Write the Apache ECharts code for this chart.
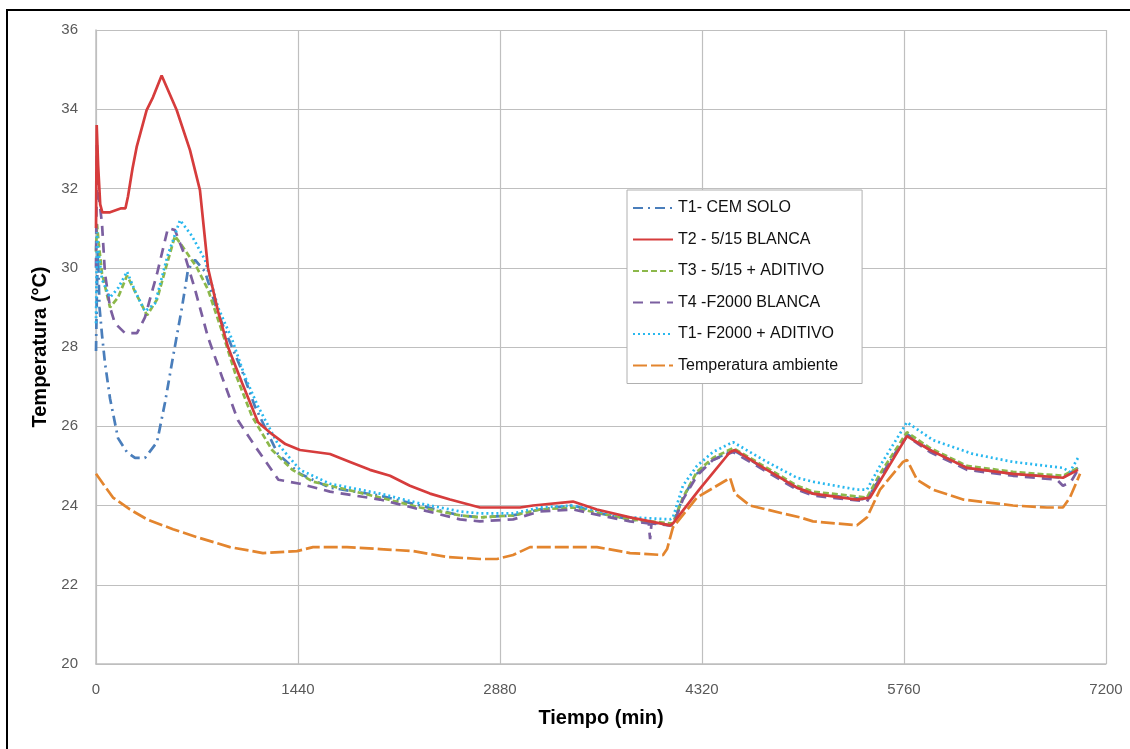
<!DOCTYPE html>
<html>
<head>
<meta charset="utf-8">
<title>Temperatura vs tiempo</title>
<script src="https://cdn.jsdelivr.net/npm/echarts@6/dist/echarts.min.js"></script>
<style>
  html, body { margin: 0; padding: 0; background: #fff; }
  #chart { width: 1130px; height: 749px; }
</style>
</head>
<body>
<div id="chart"></div>
<script>
// ejes
var xTicks = [0, 1440, 2880, 4320, 5760, 7200];
var yTicks = [20, 22, 24, 26, 28, 30, 32, 34, 36];

// nombres de las series (leyenda)
var seriesNames = ['T1- CEM SOLO', 'T2 - 5/15 BLANCA', 'T3 - 5/15 + ADITIVO',
                   'T4 -F2000 BLANCA', 'T1- F2000 + ADITIVO', 'Temperatura ambiente'];

// [tiempo (min), temperatura (°C)]
var t1CemSolo = [[0,27.9],[7,29.5],[14,30.4],[25,29.0],[43,28.3],[64,27.6],[100,26.7],[157,25.7],[220,25.35],[278,25.2],[349,25.2],[435,25.6],[492,26.6],[549,27.75],[613,29.0],[656,29.95],[706,30.2],[777,29.9],[870,28.85],[969,28.0],[1041,27.4],[1133,26.5],[1297,25.3],[1454,24.8],[1668,24.45],[2025,24.25],[2310,24.0],[2595,23.75],[2737,23.7],[2973,23.75],[3165,23.9],[3400,24.0],[3594,23.8],[3807,23.65],[4092,23.5],[4113,23.55],[4184,24.2],[4284,24.8],[4398,25.15],[4541,25.4],[4783,24.9],[4997,24.45],[5111,24.3],[5496,24.15],[5589,24.7],[5781,25.8],[5945,25.4],[6209,24.95],[6537,24.8],[6893,24.7],[7000,24.95]];

var t2Blanca = [[0,31.0],[5,33.6],[15,32.6],[30,31.6],[45,31.4],[100,31.4],[180,31.5],[210,31.5],[228,31.8],[260,32.5],[290,33.05],[361,33.98],[406,34.3],[468,34.85],[575,33.98],[670,32.97],[741,31.96],[798,30.0],[870,28.9],[941,28.0],[1041,27.1],[1155,26.1],[1255,25.8],[1350,25.55],[1454,25.4],[1668,25.3],[1811,25.1],[1953,24.9],[2096,24.75],[2238,24.5],[2381,24.3],[2524,24.15],[2737,23.95],[3023,23.95],[3115,24.0],[3400,24.1],[3571,23.9],[3807,23.7],[4092,23.5],[4113,23.55],[4300,24.4],[4520,25.35],[4555,25.4],[4783,24.9],[4997,24.45],[5111,24.3],[5425,24.15],[5518,24.2],[5781,25.75],[5945,25.4],[6209,24.95],[6537,24.8],[6893,24.7],[7000,24.9]];

var t3Aditivo = [[0,30.4],[7,31.1],[20,30.6],[43,29.85],[100,29.0],[157,29.25],[221,29.8],[278,29.4],[364,28.8],[435,29.2],[506,30.1],[563,30.8],[634,30.45],[720,30.0],[798,29.45],[898,28.4],[991,27.35],[1112,26.25],[1255,25.4],[1400,24.9],[1547,24.6],[1789,24.4],[2025,24.2],[2310,23.95],[2595,23.75],[2737,23.7],[2973,23.75],[3165,23.9],[3400,23.95],[3594,23.8],[3807,23.65],[4092,23.55],[4113,23.55],[4184,24.2],[4284,24.85],[4398,25.2],[4541,25.45],[4783,24.95],[4997,24.5],[5111,24.35],[5496,24.2],[5589,24.8],[5781,25.85],[5945,25.45],[6209,25.0],[6537,24.85],[6893,24.75],[7000,24.95]];

var t4F2000 = [[0,30.0],[7,33.1],[14,32.0],[43,31.1],[64,29.85],[100,29.0],[135,28.6],[207,28.35],[292,28.35],[349,28.75],[435,29.85],[513,31.0],[563,30.95],[634,30.3],[706,29.45],[798,28.25],[898,27.25],[1012,26.15],[1133,25.5],[1300,24.65],[1454,24.55],[1668,24.35],[2025,24.15],[2310,23.9],[2595,23.65],[2737,23.6],[2973,23.65],[3165,23.85],[3400,23.9],[3594,23.75],[3807,23.6],[3940,23.55],[3950,23.15],[3960,23.55],[4092,23.5],[4113,23.5],[4184,24.15],[4284,24.75],[4398,25.15],[4541,25.35],[4783,24.85],[4997,24.4],[5111,24.25],[5496,24.1],[5589,24.7],[5781,25.75],[5945,25.35],[6209,24.9],[6537,24.75],[6850,24.65],[6893,24.5],[6950,24.6],[7000,24.9]];

var t1F2000Aditivo = [[0,28.6],[7,30.9],[14,30.5],[43,29.7],[100,29.25],[160,29.5],[221,29.9],[280,29.4],[349,28.9],[421,29.1],[510,30.3],[599,31.2],[684,30.8],[777,30.2],[870,29.0],[969,28.2],[1062,27.25],[1155,26.5],[1297,25.55],[1454,24.9],[1668,24.55],[2025,24.3],[2310,24.05],[2595,23.85],[2737,23.8],[2973,23.8],[3165,23.95],[3400,24.0],[3594,23.85],[3807,23.7],[4092,23.65],[4113,23.7],[4184,24.5],[4284,25.0],[4398,25.35],[4541,25.6],[4783,25.1],[4997,24.7],[5111,24.6],[5425,24.4],[5496,24.4],[5589,25.0],[5781,26.1],[5967,25.65],[6252,25.3],[6537,25.1],[6893,24.95],[6943,24.85],[7000,25.2]];

var tAmbiente = [[0,24.8],[121,24.2],[242,23.9],[364,23.65],[549,23.4],[720,23.2],[955,22.95],[1190,22.8],[1433,22.85],[1547,22.95],[1789,22.95],[2025,22.9],[2260,22.85],[2502,22.7],[2737,22.65],[2859,22.65],[2973,22.75],[3094,22.95],[3329,22.95],[3571,22.95],[3807,22.8],[4042,22.75],[4071,22.9],[4113,23.45],[4284,24.2],[4498,24.65],[4520,24.7],[4555,24.3],[4662,24.0],[4897,23.8],[5019,23.7],[5111,23.6],[5425,23.5],[5496,23.7],[5589,24.4],[5753,25.1],[5781,25.15],[5853,24.65],[5967,24.4],[6181,24.15],[6537,24.0],[6779,23.95],[6893,23.95],[6943,24.2],[7015,24.8]];

var seriesData = [t1CemSolo, t2Blanca, t3Aditivo, t4F2000, t1F2000Aditivo, tAmbiente];
var seriesColors = ['#4a7ebb', '#d63c3c', '#8cb84a', '#7b5fa0', '#28b8ef', '#e3852e'];
var seriesDash = [[10, 5, 2, 5], 'solid', [6, 3], [10, 7], [2, 3], [14, 4]];

var myChart = echarts.init(document.getElementById('chart'));

var series = [];
for (var i = 0; i < seriesNames.length; i++) {
    series.push({
        name: seriesNames[i],
        type: 'line',
        data: seriesData[i],
        showSymbol: false,
        z: i == 1 ? 3 : 2,
        lineStyle: { color: seriesColors[i], width: 2.7, type: seriesDash[i] },
        itemStyle: { color: seriesColors[i] }
    });
}

var labelFont = { color: '#595959', fontSize: 15, fontFamily: 'Liberation Sans' };
var nameFont = { color: '#000', fontSize: 20, fontWeight: 'bold', fontFamily: 'Liberation Sans' };

var option = {
    backgroundColor: '#ffffff',
    animation: false,
    graphic: [{
        type: 'rect',
        shape: { x: 7, y: 10, width: 1140, height: 760 },
        style: { fill: 'none', stroke: '#000', lineWidth: 2 },
        silent: true,
        z: -1
    }],
    grid: { left: 96, right: 24, top: 30, bottom: 85 },
    legend: {
        orient: 'vertical',
        left: 627,
        top: 190,
        padding: [10, 24, 10, 5],
        itemWidth: 40,
        itemHeight: 16,
        itemGap: 15.5,
        borderColor: '#b0b0b0',
        borderWidth: 1,
        backgroundColor: '#ffffff',
        itemStyle: { opacity: 0 },
        textStyle: { color: '#111', fontSize: 16, fontFamily: 'Liberation Sans' },
        data: seriesNames
    },
    xAxis: {
        type: 'value',
        min: xTicks[0],
        max: xTicks[xTicks.length - 1],
        interval: 1440,
        name: 'Tiempo (min)',
        nameLocation: 'middle',
        nameGap: 44,
        nameTextStyle: nameFont,
        axisLine: { lineStyle: { color: '#bfbfbf', width: 1.5 } },
        axisTick: { show: false },
        axisLabel: Object.assign({ margin: 18, formatter: function (v) { return String(v); } }, labelFont),
        splitLine: { show: true, lineStyle: { color: '#bfbfbf', width: 1.2 } }
    },
    yAxis: {
        type: 'value',
        min: yTicks[0],
        max: yTicks[yTicks.length - 1],
        interval: 2,
        name: 'Temperatura (°C)',
        nameLocation: 'middle',
        nameGap: 46,
        nameTextStyle: nameFont,
        axisLine: { show: true, lineStyle: { color: '#bfbfbf', width: 1.5 } },
        axisTick: { show: false },
        axisLabel: Object.assign({ margin: 18 }, labelFont),
        splitLine: { show: true, lineStyle: { color: '#bfbfbf', width: 1.2 } }
    },
    series: series
};

myChart.setOption(option);
</script>
</body>
</html>
